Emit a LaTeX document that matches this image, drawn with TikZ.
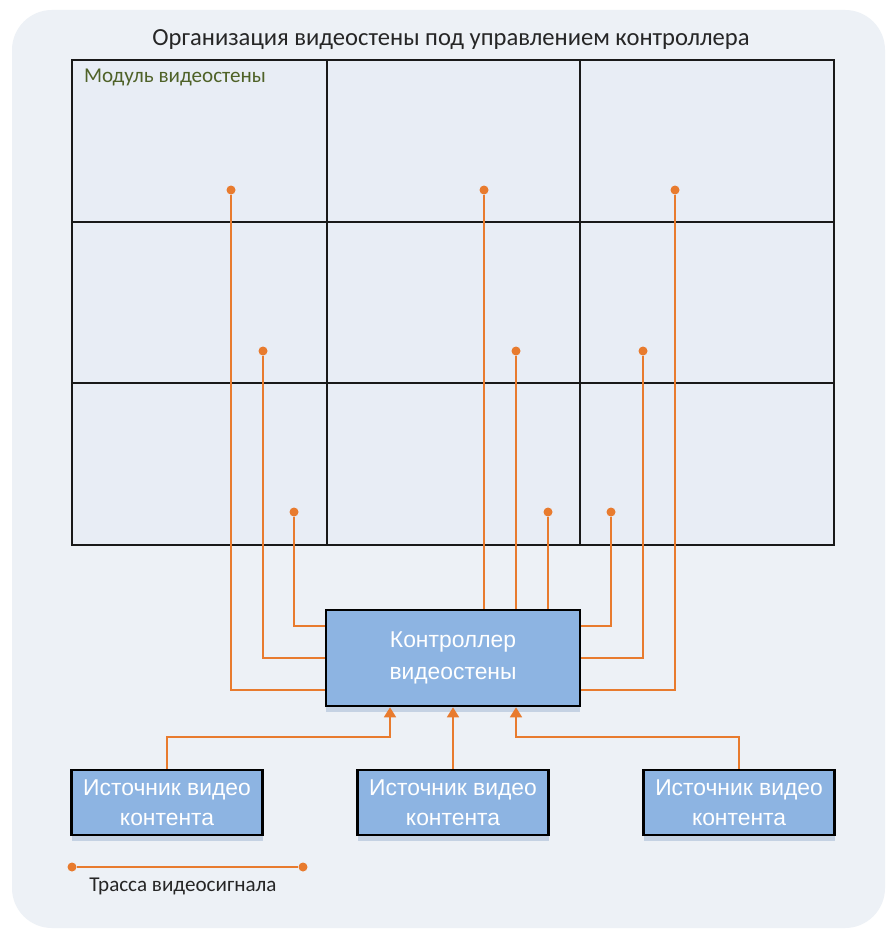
\documentclass[tikz,border=0pt]{standalone}
\usepackage{fontspec}
\setmainfont{Carlito}
\newfontfamily\boxfont{Liberation Sans}
\usetikzlibrary{arrows.meta,shadows}
\definecolor{pagebg}{RGB}{237,241,246}
\definecolor{gridfill}{RGB}{232,237,245}
\definecolor{boxblue}{RGB}{141,180,226}
\definecolor{boxshadow}{RGB}{197,210,227}
\definecolor{tracecol}{RGB}{232,123,46}
\definecolor{modgreen}{RGB}{79,98,40}
\definecolor{titlegray}{RGB}{38,38,38}

\tikzset{
    wall/.style={draw=black!90, line width=1.5pt},
    ctrlbox/.style={draw=black, line width=2.2pt, fill=boxblue, text=white, align=center,
        inner sep=0pt, minimum width=76.2mm, minimum height=28.8mm,
        font=\boxfont\fontsize{19.5}{27}\selectfont,
        drop shadow={shadow xshift=0mm, shadow yshift=-1.8mm, fill=boxshadow, opacity=1}},
    srcbox/.style={ctrlbox, minimum width=57.3mm, minimum height=19.5mm,
        font=\boxfont\fontsize{19.5}{26}\selectfont},
    tracedot/.style={circle, fill=tracecol, inner sep=0pt, minimum size=2.7mm},
    trace/.style={draw=tracecol, line width=1.5pt},
    feed/.style={trace, -{Triangle[length=3mm,width=3.6mm]}},
}

\begin{document}
\begin{tikzpicture}[x=0.3mm,y=-0.3mm]
    % Page
    \useasboundingbox (0,0) rectangle (891,932);
    \fill[white] (0,0) rectangle (891,932);
    \fill[pagebg, rounded corners=12mm] (12,10) rectangle (885,928);

    % Title
    \node[text=titlegray, font=\fontsize{21}{25}\selectfont] (title) at (451,40)
        {Организация видеостены под управлением контроллера};

    % Video wall
    \fill[gridfill] (72,60) rectangle (834,545);
    \foreach \x in {327,580}
        \draw[wall] (\x,60) -- (\x,545);
    \foreach \y in {222,383}
        \draw[wall] (72,\y) -- (834,\y);
    \draw[wall] (72,60) rectangle (834,545);
    \node[anchor=west, text=modgreen, font=\fontsize{18}{21}\selectfont] (modlabel) at (80,77)
        {Модуль видеостены};

    % Controller and sources
    \node[ctrlbox] (ctrl) at (453,658) {Контроллер\\видеостены};
    \node[srcbox] (src1) at (167,802.5) {Источник видео\\контента};
    \node[srcbox] (src2) at (453,802.5) {Источник видео\\контента};
    \node[srcbox] (src3) at (739,802.5) {Источник видео\\контента};

    % Signal dots
    \foreach \x/\y [count=\i] in {231/190,263/351,294/512,484/190,516/351,548/512,675/190,643/351,611/512}
        \node[tracedot] (d\i) at (\x,\y) {};

    % Traces
    \foreach \i/\y in {1/690,2/658,3/626}
        \draw[trace] (d\i) |- (ctrl.west |- 0,\y);
    \foreach \i in {4,5,6}
        \draw[trace] (d\i) -- (d\i |- ctrl.north);
    \foreach \i/\y in {7/690,8/658,9/626}
        \draw[trace] (d\i) |- (ctrl.east |- 0,\y);

    % Inputs
    \draw[feed] (src1.north) -- ++(0,-32) -| ([xshift=-18.9mm]ctrl.south);
    \draw[feed] (src2.north) -- (ctrl.south);
    \draw[feed] (src3.north) -- ++(0,-32) -| ([xshift=18.9mm]ctrl.south);

    % Legend
    \node[tracedot] (leg1) at (72,867) {};
    \node[tracedot] (leg2) at (303,867) {};
    \draw[trace] (leg1) -- (leg2);
    \node[text=titlegray, font=\fontsize{18}{21}\selectfont] (legtext) at (183,886) {Трасса видеосигнала};
\end{tikzpicture}
\end{document}
